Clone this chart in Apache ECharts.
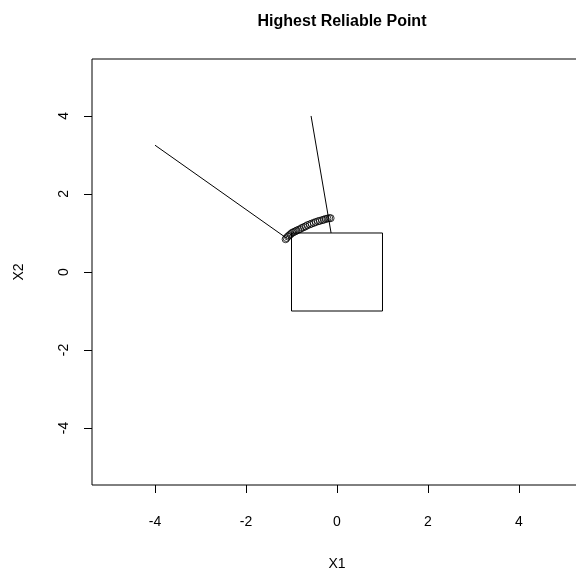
<!DOCTYPE html>
<html>
  <head>
    <meta charset="UTF-8" />
    <title>Highest Reliable Point</title>
    <script src="https://cdn.jsdelivr.net/npm/echarts@6.0.0/dist/echarts.min.js"></script>
    <style>
      html, body { margin: 0; padding: 0; background: #fff; }
    </style>
  </head>
  <body>
    <div id="chart" style="width: 576px; height: 571px"></div>
    <script>
      // tick labels
      const xTicks = [-4, -2, 0, 2, 4];
      const yTicks = [-4, -2, 0, 2, 4];

      // square region
      const boxX = [-1, 1, 1, -1, -1];
      const boxY = [-1, -1, 1, 1, -1];

      // the two straight segments
      const lineAX = [-4.0, -1.1];
      const lineAY = [3.25, 0.86];
      const lineBX = [-0.57, -0.13];
      const lineBY = [4.0, 1.0];

      // reliable points along the arc
      const ptX = [-1.13, -1.11, -1.08, -1.05, -1.02, -0.99, -0.96, -0.92, -0.89, -0.85, -0.81, -0.77, -0.73, -0.69,
                   -0.65, -0.60, -0.56, -0.51, -0.47, -0.42, -0.38, -0.33, -0.29, -0.25, -0.21, -0.17, -0.14];
      const ptY = [0.84, 0.87, 0.91, 0.94, 0.97, 1.00, 1.02, 1.04, 1.06, 1.08, 1.10, 1.13, 1.15, 1.17,
                   1.20, 1.22, 1.24, 1.26, 1.28, 1.30, 1.31, 1.33, 1.34, 1.36, 1.37, 1.38, 1.38];

      const zip = (a, b) => a.map((v, i) => [v, b[i]]);
      const font = 'Liberation Sans, Arial, sans-serif';

      let chart = echarts.init(document.getElementById('chart'));
      chart.setOption({
        animation: false,
        title: {
          text: 'Highest Reliable Point',
          left: 337,
          top: 9,
          textAlign: 'center',
          textStyle: { fontFamily: font, fontSize: 16, fontWeight: 'bold', color: '#000' }
        },
        grid: {
          left: 92, top: 59, width: 490, height: 426,
          containLabel: false, outerBoundsMode: 'none',
          show: true, borderColor: '#000', borderWidth: 1, backgroundColor: 'transparent'
        },
        xAxis: {
          type: 'value', min: -5.385, max: 5.385,
          name: 'X1', nameLocation: 'middle', nameGap: 72,
          nameTextStyle: { fontFamily: font, fontSize: 14, color: '#000' },
          axisLine: { show: false, onZero: false },
          splitLine: { show: false },
          axisTick: { show: true, length: 8, customValues: xTicks, lineStyle: { color: '#000' } },
          axisLabel: { customValues: xTicks, margin: 30, fontFamily: font, fontSize: 14, color: '#000' }
        },
        yAxis: {
          type: 'value', min: -5.46, max: 5.46,
          name: 'X2', nameLocation: 'middle', nameGap: 66,
          nameTextStyle: { fontFamily: font, fontSize: 14, color: '#000' },
          axisLine: { show: false, onZero: false },
          splitLine: { show: false },
          axisTick: { show: true, length: 8, customValues: yTicks, lineStyle: { color: '#000' } },
          axisLabel: { customValues: yTicks, rotate: 90, margin: 21, fontFamily: font, fontSize: 14, color: '#000' }
        },
        series: [
          {
            type: 'line', data: zip(boxX, boxY), symbol: 'none',
            lineStyle: { color: '#000', width: 1 }
          },
          {
            type: 'line', data: zip(lineAX, lineAY), symbol: 'none',
            lineStyle: { color: '#000', width: 1 }
          },
          {
            type: 'line', data: zip(lineBX, lineBY), symbol: 'none',
            lineStyle: { color: '#000', width: 1 }
          },
          {
            type: 'scatter', data: zip(ptX, ptY), symbol: 'circle', symbolSize: 7,
            itemStyle: { color: 'rgba(255,255,255,0)', borderColor: '#000', borderWidth: 1 }
          }
        ]
      });
    </script>
  </body>
</html>
